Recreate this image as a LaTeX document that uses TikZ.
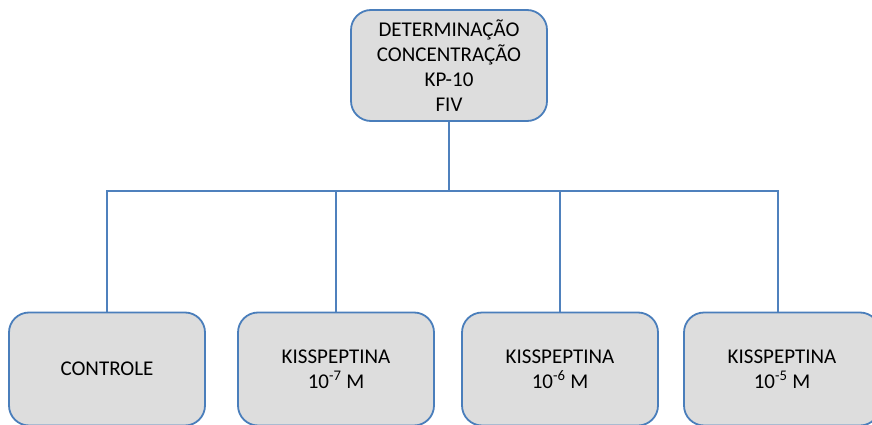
\documentclass[tikz,border=0pt]{standalone}
\usepackage{fontspec}
\setmainfont{Carlito}
\usetikzlibrary{positioning}
\definecolor{boxline}{HTML}{4A7EBB}
\definecolor{boxfill}{HTML}{DDDDDD}
\definecolor{linkblue}{HTML}{4F81BD}
\begin{document}
\begin{tikzpicture}[x=1pt, y=-1pt,
      box/.style={draw=boxline, fill=boxfill, line width=1.8pt, rounded corners=20pt, text=black, font=\fontsize{21}{25}\selectfont, minimum width=196pt, minimum height=113pt, align=center, inner sep=0pt},
      link/.style={draw=linkblue, line width=1.4pt}]
    \useasboundingbox (0,0) rectangle (872,425);
    \node[box, minimum height=111pt] (t) at (449,65.5) {DETERMINAÇÃO\\CONCENTRAÇÃO\\KP-10\\FIV};
    \node[box] (c) at (107,369) {CONTROLE};
    \node[box] (k7) at (336,369) {KISSPEPTINA\\10\textsuperscript{-7} M};
    \node[box] (k6) at (560,369) {KISSPEPTINA\\10\textsuperscript{-6} M};
    \node[box] (k5) at (782,369) {KISSPEPTINA\\10\textsuperscript{-5} M};
    \coordinate (j) at (449,191);
    \draw[link] (t.south) -- (j);
    \draw[link] (c.north) |- (j); \draw[link] (k7.north) |- (j);
    \draw[link] (k6.north) |- (j); \draw[link] ([xshift=-4pt]k5.north) |- (j);
  \end{tikzpicture}
\end{document}
